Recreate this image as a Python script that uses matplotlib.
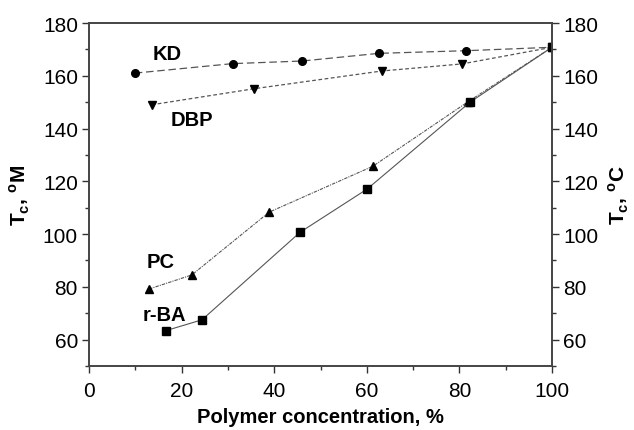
import matplotlib
matplotlib.use("Agg")
import matplotlib.pyplot as plt
from matplotlib.ticker import MultipleLocator

plt.rcParams['font.family'] = ['Liberation Sans', 'DejaVu Sans']

kd_x = [9.9, 31.0, 46.1, 62.6, 81.4, 100.0]
kd_y = [161.0, 164.6, 165.6, 168.5, 169.5, 170.8]
dbp_x = [13.5, 35.7, 63.2, 80.6, 100.0]
dbp_y = [149.0, 155.1, 161.8, 164.5, 170.8]
pc_x = [13.0, 22.2, 38.9, 61.3, 81.9, 100.0]
pc_y = [79.2, 84.5, 108.3, 125.7, 150.2, 170.8]
rba_x = [16.6, 24.4, 45.6, 60.1, 82.3, 100.0]
rba_y = [63.4, 67.5, 100.7, 117.1, 150.0, 170.8]

labels = ["KD", "DBP", "PC", "r-BA"]
label_pos = [(13.8, 168.6), (17.7, 143.6), (12.5, 89.5), (11.6, 69.4)]

fig = plt.figure(figsize=(6.34, 4.31), dpi=100)
ax = fig.add_axes([89/634, 1-367/431, (552-89)/634, (367-24)/431])

lc = '#555555'
ax.plot(kd_x, kd_y, color=lc, lw=0.9, dashes=(6, 3), marker='o', ms=5.5, mfc='black', mec='black')
ax.plot(dbp_x, dbp_y, color=lc, lw=0.9, dashes=(3, 2), marker='v', ms=6, mfc='black', mec='black')
ax.plot(pc_x, pc_y, color=lc, lw=0.8, dashes=(3, 1, 1, 1), marker='^', ms=6, mfc='black', mec='black')
ax.plot(rba_x, rba_y, color=lc, lw=0.8, marker='s', ms=5.5, mfc='black', mec='black')

for t, (x, y) in zip(labels, label_pos):
    ax.text(x, y, t, fontsize=14.5, fontweight='bold', va='center', ha='left')

ax.set_xlim(0, 100)
ax.set_ylim(50, 180)
ax.xaxis.set_major_locator(MultipleLocator(20))
ax.xaxis.set_minor_locator(MultipleLocator(10))
ax.set_yticks(range(60, 181, 20))
ax.yaxis.set_minor_locator(MultipleLocator(10))

ax2 = ax.twinx()
ax2.set_ylim(50, 180)
ax2.set_yticks(range(60, 181, 20))
ax2.yaxis.set_minor_locator(MultipleLocator(10))

for a in (ax, ax2):
    a.tick_params(which='major', direction='out', length=5, width=1, labelsize=15, color='#333333', pad=3)
    a.tick_params(which='minor', direction='out', length=3, width=1, color='#333333')
    for s in a.spines.values():
        s.set_color('#444444')
        s.set_linewidth(1.2)
ax.tick_params(axis='x', pad=6)

ax.set_xlabel("Polymer concentration, %", fontsize=14.5, fontweight='bold', labelpad=5)
ax.set_ylabel("T$_\\mathregular{c}$, $^\\mathregular{o}$M", fontsize=15, fontweight='bold', labelpad=8)
ax2.set_ylabel("T$_\\mathregular{c}$, $^\\mathregular{o}$C", fontsize=15, fontweight='bold', labelpad=6)

fig.savefig("out.png", dpi=100)
